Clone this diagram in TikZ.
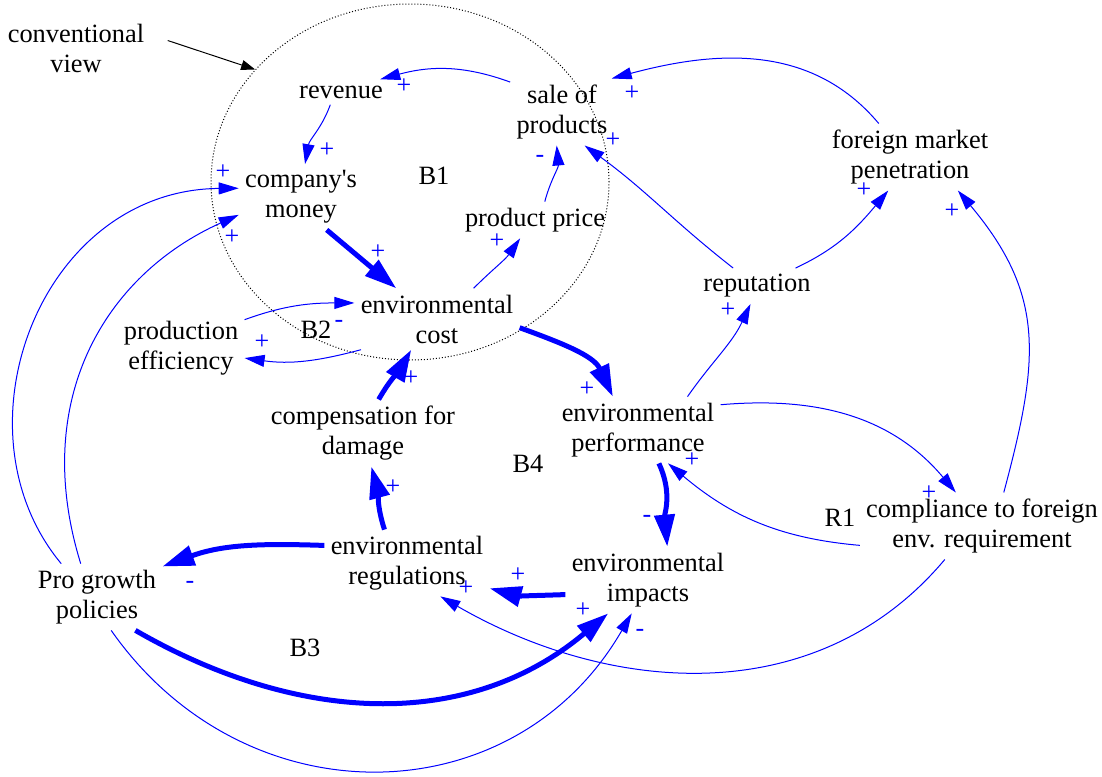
\documentclass[tikz,border=0pt]{standalone}
\usepackage{fontspec}
\setmainfont{Liberation Serif}
\usetikzlibrary{arrows.meta,shapes.geometric}

\tikzset{
    var/.style={align=center, inner sep=3pt, font=\fontsize{13.2}{15}\selectfont},
    loopname/.style={inner sep=0pt, font=\fontsize{13.2}{15}\selectfont},
    pol/.style={text=blue, inner sep=0pt, font=\fontsize{13}{15}\selectfont},
    link/.style={blue, line width=0.5pt, -{Triangle[length=10pt,width=6pt]}},
    strong/.style={line width=2.5pt, -{Triangle[length=16pt,width=10pt]}}
}

\begin{document}
\begin{tikzpicture}[x=0.5pt,y=-0.5pt]
            \useasboundingbox (0,0) rectangle (1102,776);
            % the conventional view
            \node[draw, ellipse, line width=0.5pt, dash pattern=on 0.5pt off 1pt,
                  minimum width=199pt, minimum height=178pt, inner sep=0pt] (view) at (410,182) {};
            \node[var] (conv) at (76,48) {conventional\\view};
            \draw[line width=0.5pt, shorten <=9pt, -{Triangle[length=7pt,width=5pt]}] (conv.10) -- (view.144);

            % variables
            \node[var] (revenue) at (341,92)  {revenue};
            \node[var] (sale)    at (562,112) {sale of\\products};
            \node[var] (money)   at (301,197) {company\textquotesingle s\\money};
            \node[var] (price)   at (535,220) {product price};
            \node[var] (foreign) at (910,157) {foreign market\\penetration};
            \node[var] (rep)     at (757,286) {reputation};
            \node[var] (cost)    at (437,319) {environmental\\cost};
            \node[var] (eff)     at (181,348) {production\\efficiency};
            \node[var] (comp)    at (363,433) {compensation for\\damage};
            \node[var] (perf)    at (638,430) {environmental\\performance};
            \node[var] (compl)   at (982,526) {compliance to foreign\\env. requirement};
            \node[var] (regs)    at (407,563) {environmental\\regulations};
            \node[var] (imp)     at (648,580) {environmental\\impacts};
            \node[var] (pro)     at (97,597)  {Pro growth\\policies};

            % loops
            \node[loopname] (B_1) at (434,176) {B1};
            \node[loopname] (B_2) at (316,330) {B2};
            \node[loopname] (B_3) at (305,648) {B3};
            \node[loopname] (B_4) at (528,464) {B4};
            \node[loopname] (R_1) at (840,518) {R1};

            \path[link]
                (sale.150)
                    edge [out=160, in=15] (revenue.18)
                (revenue.-130)
                    edge [out=-110, in=80] (money.83)
                (money.-52)
                    edge [strong, out=-40, in=140] (cost.143)
                (cost.40)
                    edge [out=45, in=-125] (price.-129)
                (price.62)
                    edge [out=75, in=-85] (sale.-99)
                (rep.143)
                    edge [out=142, in=-36] (sale.-56)
                (rep.25)
                    edge [out=25, in=-130] (foreign.-123)
                (foreign.133)
                    edge [out=130, in=15] (sale.34)
                (compl.57)
                    edge [out=75, in=-50, looseness=1.15] (foreign.-35)
                (perf.34)
                    edge [out=55, in=-115] (rep.-110)
                (cost.-6)
                    edge [strong, out=-20, in=115] (perf.127)
                (perf.17)
                    edge [out=5, in=130] (compl.128)
                (compl.-171)
                    edge [out=175, in=-40] (perf.-48)
                (perf.-58)
                    edge [strong, out=-65, in=95] (imp.60)
                (imp.-170)
                    edge [strong, out=182, in=-15] (regs.-17)
                (regs.124)
                    edge [strong, out=108, in=-75] (comp.-76)
                (comp.65)
                    edge [strong, out=60, in=-120] (cost.-130)
                (regs.168)
                    edge [strong, out=178, in=20] (pro.25)
                (pro.-41)
                    edge [strong, out=-30, in=-140] (imp.-140)
                (pro.-67)
                    edge [out=-55, in=-120, looseness=1.15] (imp.-116)
                (eff.24)
                    edge [out=20, in=180] (cost.169)
                (cost.-158)
                    edge [out=-165, in=-8] (eff.-9)
                (compl.-138)
                    edge [out=-130, in=-30] (regs.-45);
            \draw[link] (pro.137) .. controls (-50,430) and (40,190) .. (money.172);
            \draw[link] (pro.116) .. controls (30,400) and (105,275) .. (money.196);

            % polarities
            \node[pol] (s_1)  at (404,86)  {+};
            \node[pol] (s_2)  at (327,150) {+};
            \node[pol] (s_3)  at (378,252) {+};
            \node[pol] (s_4)  at (497,241) {+};
            \node[pol] (s_5)  at (540,159) {-};
            \node[pol] (s_6)  at (613,140) {+};
            \node[pol] (s_7)  at (632,93)  {+};
            \node[pol] (s_8)  at (864,190) {+};
            \node[pol] (s_9)  at (952,211) {+};
            \node[pol] (s_10) at (728,310) {+};
            \node[pol] (s_11) at (587,389) {+};
            \node[pol] (s_12) at (929,493) {+};
            \node[pol] (s_13) at (692,460) {+};
            \node[pol] (s_14) at (647,519) {-};
            \node[pol] (s_15) at (518,575) {+};
            \node[pol] (s_16) at (393,487) {+};
            \node[pol] (s_17) at (411,378) {+};
            \node[pol] (s_18) at (190,585) {-};
            \node[pol] (s_19) at (583,610) {+};
            \node[pol] (s_20) at (640,633) {-};
            \node[pol] (s_21) at (223,172) {+};
            \node[pol] (s_22) at (232,237) {+};
            \node[pol] (s_23) at (339,324) {-};
            \node[pol] (s_24) at (262,342) {+};
            \node[pol] (s_25) at (466,588) {+};
\end{tikzpicture}
\end{document}
